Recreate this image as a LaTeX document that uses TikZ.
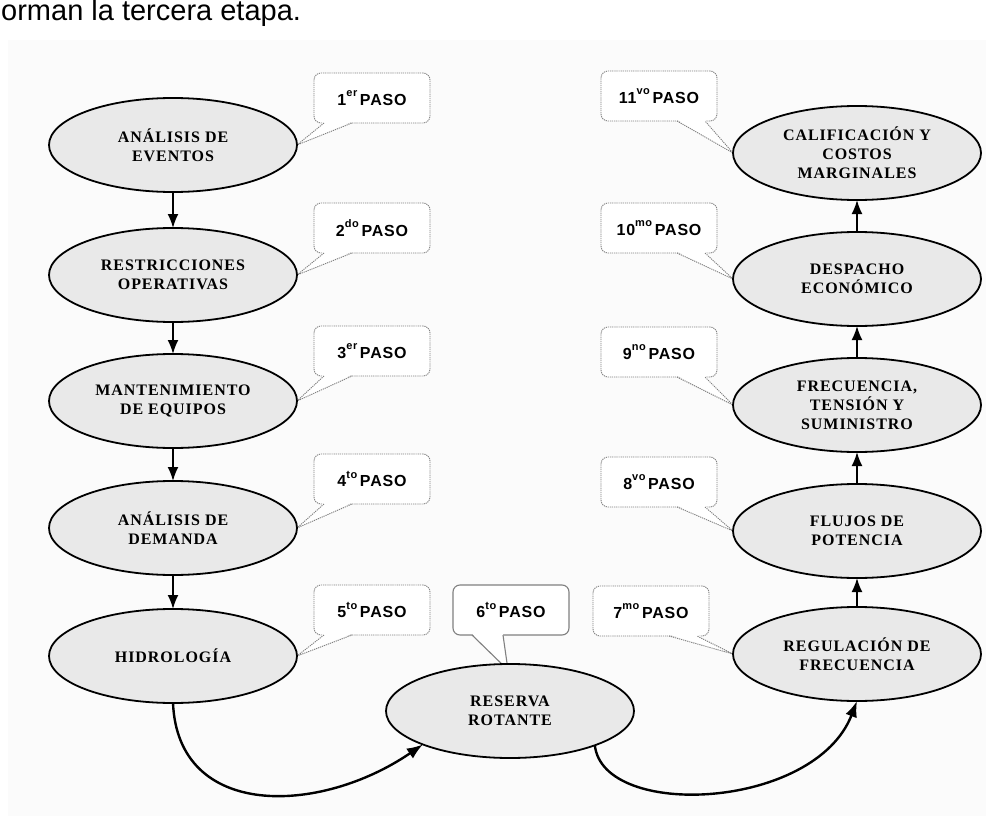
\documentclass[tikz,border=0pt]{standalone}
\usepackage{fontspec}
\usetikzlibrary{arrows.meta,shapes.geometric,calc}
\setmainfont{Liberation Serif}
\newfontfamily\stagefont[LetterSpace=6]{Liberation Serif}
\newfontfamily\pasofont[LetterSpace=5]{Liberation Sans}
\newfontfamily\leadfont{Liberation Sans}
\pgfdeclarelayer{background}
\pgfsetlayers{background,main}
% ordinal superscript of a step label
\newcommand\ordsup[1]{\raisebox{0.55em}{\fontsize{11}{11}\selectfont #1}}
% callout tail towards the right edge of a stage (callout sits to its right)
\newcommand\tailtoright[2]{%
  \fill[white] ($(#1.south west)+(10,-1.5)$) -- (#2.east) -- ($(#1.south west)+(38,-1.5)$) -- cycle;
  \draw[tail] ($(#1.south west)+(10,0)$) -- (#2.east) -- ($(#1.south west)+(38,0)$);}
% callout tail towards the left edge of a stage (callout sits to its left)
\newcommand\tailtoleft[2]{%
  \fill[white] ($(#1.south east)+(-40,-1.5)$) -- (#2.west) -- ($(#1.south east)+(-12,-1.5)$) -- cycle;
  \draw[tail] ($(#1.south east)+(-40,0)$) -- (#2.west) -- ($(#1.south east)+(-12,0)$);}
\definecolor{paper}{HTML}{FBFBFB}
\definecolor{stagefill}{HTML}{E9E9E9}
\definecolor{calloutline}{HTML}{808080}
\begin{document}
\begin{tikzpicture}[x=1pt,y=-1pt,
  stage/.style={ellipse, draw=black, line width=1.8pt, fill=stagefill,
    minimum width=248pt, minimum height=94pt, inner sep=0pt, outer sep=0pt,
    align=center, font=\stagefont\bfseries\fontsize{16}{19}\selectfont},
  paso/.style={rectangle, rounded corners=7pt, draw=calloutline, line width=0.9pt,
    dash pattern=on 1.2pt off 0.9pt, fill=white, minimum width=116pt,
    minimum height=50pt, inner sep=0pt, outer sep=0pt,
    font=\pasofont\bfseries\fontsize{16}{18}\selectfont},
  pasosolid/.style={paso, solid, line width=1.1pt},
  tail/.style={draw=calloutline, line width=0.9pt, dash pattern=on 1.2pt off 0.9pt},
  flow/.style={draw=black, line width=1.8pt, -{Latex[length=14pt,width=11pt]}},
  bigflow/.style={draw=black, line width=2.4pt, -{Latex[length=16pt,width=12pt]}},
  lead/.style={anchor=base west, inner sep=0pt, font=\leadfont\fontsize{29}{29}\selectfont}]
\useasboundingbox (0,0) rectangle (986,816);
\clip (0,0) rectangle (986,816);

% text line running into the figure
\node[lead] (lead) at (1,21) {orman la tercera etapa.};

% left column of stages (top to bottom)
\node[stage] (evt) at (173,145) {ANÁLISIS DE\\EVENTOS};
\node[stage] (rst) at (173,275) {RESTRICCIONES\\OPERATIVAS};
\node[stage] (mnt) at (173,401) {MANTENIMIENTO\\DE EQUIPOS};
\node[stage] (dem) at (173,528) {ANÁLISIS DE\\DEMANDA};
\node[stage] (hid) at (173,656) {HIDROLOGÍA};

% bottom middle stage
\node[stage] (res) at (510,711) {RESERVA\\ROTANTE};

% right column of stages (bottom to top)
\node[stage] (reg) at (857,654) {REGULACIÓN DE\\FRECUENCIA};
\node[stage] (flu) at (857,531) {FLUJOS DE\\POTENCIA};
\node[stage] (fre) at (857,405) {FRECUENCIA,\\TENSIÓN Y\\SUMINISTRO};
\node[stage] (des) at (857,279) {DESPACHO\\ECONÓMICO};
\node[stage] (cal) at (857,153) {CALIFICACIÓN Y\\COSTOS\\MARGINALES};

% sequence arrows
\draw[flow] (evt) -- (rst);
\draw[flow] (rst) -- (mnt);
\draw[flow] (mnt) -- (dem);
\draw[flow] (dem) -- (hid);
\draw[bigflow] (hid.south) .. controls (178,820) and (320,815) .. (res.201);
\draw[bigflow] (res.-22) .. controls (603,820) and (815,810) .. (reg.south);
\draw[flow] (reg) -- (flu);
\draw[flow] (flu) -- (fre);
\draw[flow] (fre) -- (des);
\draw[flow] (des) -- (cal);

\begin{pgfonlayer}{background}
  \fill[paper] (8,40) rectangle (986,816);
  % step callouts
  \node[paso] (p1) at (372,98) {1\ordsup{er}\,PASO};
  \node[paso] (p2) at (372,228) {2\ordsup{do}\,PASO};
  \node[paso] (p3) at (372,351) {3\ordsup{er}\,PASO};
  \node[paso] (p4) at (372,479) {4\ordsup{to}\,PASO};
  \node[paso] (p5) at (372,610) {5\ordsup{to}\,PASO};
  \node[pasosolid] (p6) at (511,610) {6\ordsup{to}\,PASO};
  \node[paso] (p7) at (651,611) {7\ordsup{mo}\,PASO};
  \node[paso] (p8) at (659,482) {8\ordsup{vo}\,PASO};
  \node[paso] (p9) at (659,352) {9\ordsup{no}\,PASO};
  \node[paso] (p10) at (659,228) {10\ordsup{mo}\,PASO};
  \node[paso] (p11) at (659,96) {11\ordsup{vo}\,PASO};
  % callout tails
  \tailtoright{p1}{evt}
  \tailtoright{p2}{rst}
  \tailtoright{p3}{mnt}
  \tailtoright{p4}{dem}
  \tailtoright{p5}{hid}
  \fill[white] ($(p6.south west)+(19,-1.5)$) -- ($(res.north)+(-2,6)$) -- ($(p6.south west)+(50,-1.5)$) -- cycle;
  \draw[draw=calloutline, line width=1.1pt] ($(p6.south west)+(19,0)$) -- ($(res.north)+(-2,6)$) -- ($(p6.south west)+(50,0)$);
  \tailtoleft{p7}{reg}
  \tailtoleft{p8}{flu}
  \tailtoleft{p9}{fre}
  \tailtoleft{p10}{des}
  \tailtoleft{p11}{cal}
\end{pgfonlayer}
\end{tikzpicture}
\end{document}
